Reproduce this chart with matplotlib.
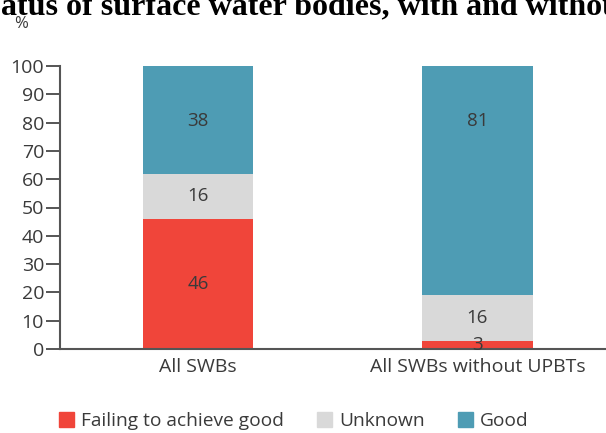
import matplotlib.pyplot as plt
import matplotlib.patches as mpatches
import numpy as np

plt.rcParams["font.family"] = ["Open Sans", "DejaVu Sans"]

categories = ["All SWBs", "All SWBs without UPBTs"]
series = ["Failing to achieve good", "Unknown", "Good"]
values = {
    "Failing to achieve good": [46, 3],
    "Unknown": [16, 16],
    "Good": [38, 81],
}
colors = {
    "Failing to achieve good": "#f0453a",
    "Unknown": "#d9d9d9",
    "Good": "#4e9cb4",
}
yticks = list(range(0, 101, 10))

fig = plt.figure(figsize=(6.06, 4.33), dpi=100)
ax = fig.add_axes([60 / 606, 84 / 433, 546 / 606, 283 / 433])

x = np.arange(len(categories))
bottom = np.zeros(len(categories))
txt = "#3a3a3a"
fs = 13.5
for s in series:
    v = np.array(values[s], dtype=float)
    ax.bar(x, v, width=0.394, bottom=bottom, color=colors[s], label=s, zorder=2)
    for xi, b, h in zip(x, bottom, v):
        y = 100 - 19.5 if s == "Good" else b + h / 2
        ax.text(xi, y, f"{h:g}", ha="center", va="center", fontsize=fs, color=txt)
    bottom += v

ax.set_xlim(-0.494, 1.46)
ax.set_ylim(0, 100)
ax.set_yticks(yticks)
ax.set_xticks(x)
ax.set_xticklabels(categories)
ax.tick_params(axis="y", length=10, width=1.4, color="#555555", labelsize=14,
               labelcolor=txt, pad=1.5)
ax.tick_params(axis="x", length=0, labelsize=14, labelcolor=txt, pad=6.5)
for side in ["top", "right"]:
    ax.spines[side].set_visible(False)
for side in ["left", "bottom"]:
    ax.spines[side].set_color("#555555")
    ax.spines[side].set_linewidth(1.5)

fig.text(14 / 606, 1 - 24 / 433, "%", fontsize=12, color=txt, va="center")
fig.text(1 / 606, 1 - 14 / 433, "atus of surface water bodies, with and without UPBTs",
         family=["Liberation Serif"], fontweight="bold", fontsize=23,
         va="baseline", ha="left", color="black")

handles = [mpatches.Patch(color=colors[s]) for s in series]
fig.legend(handles, series, loc="center left", bbox_to_anchor=(42 / 606, 1 - 421 / 433),
           ncol=3, frameon=False, fontsize=13.8, handlelength=0.78, handleheight=0.78,
           handletextpad=0.35, columnspacing=1.75, labelcolor=txt)

fig.savefig("out.png", dpi=100)
